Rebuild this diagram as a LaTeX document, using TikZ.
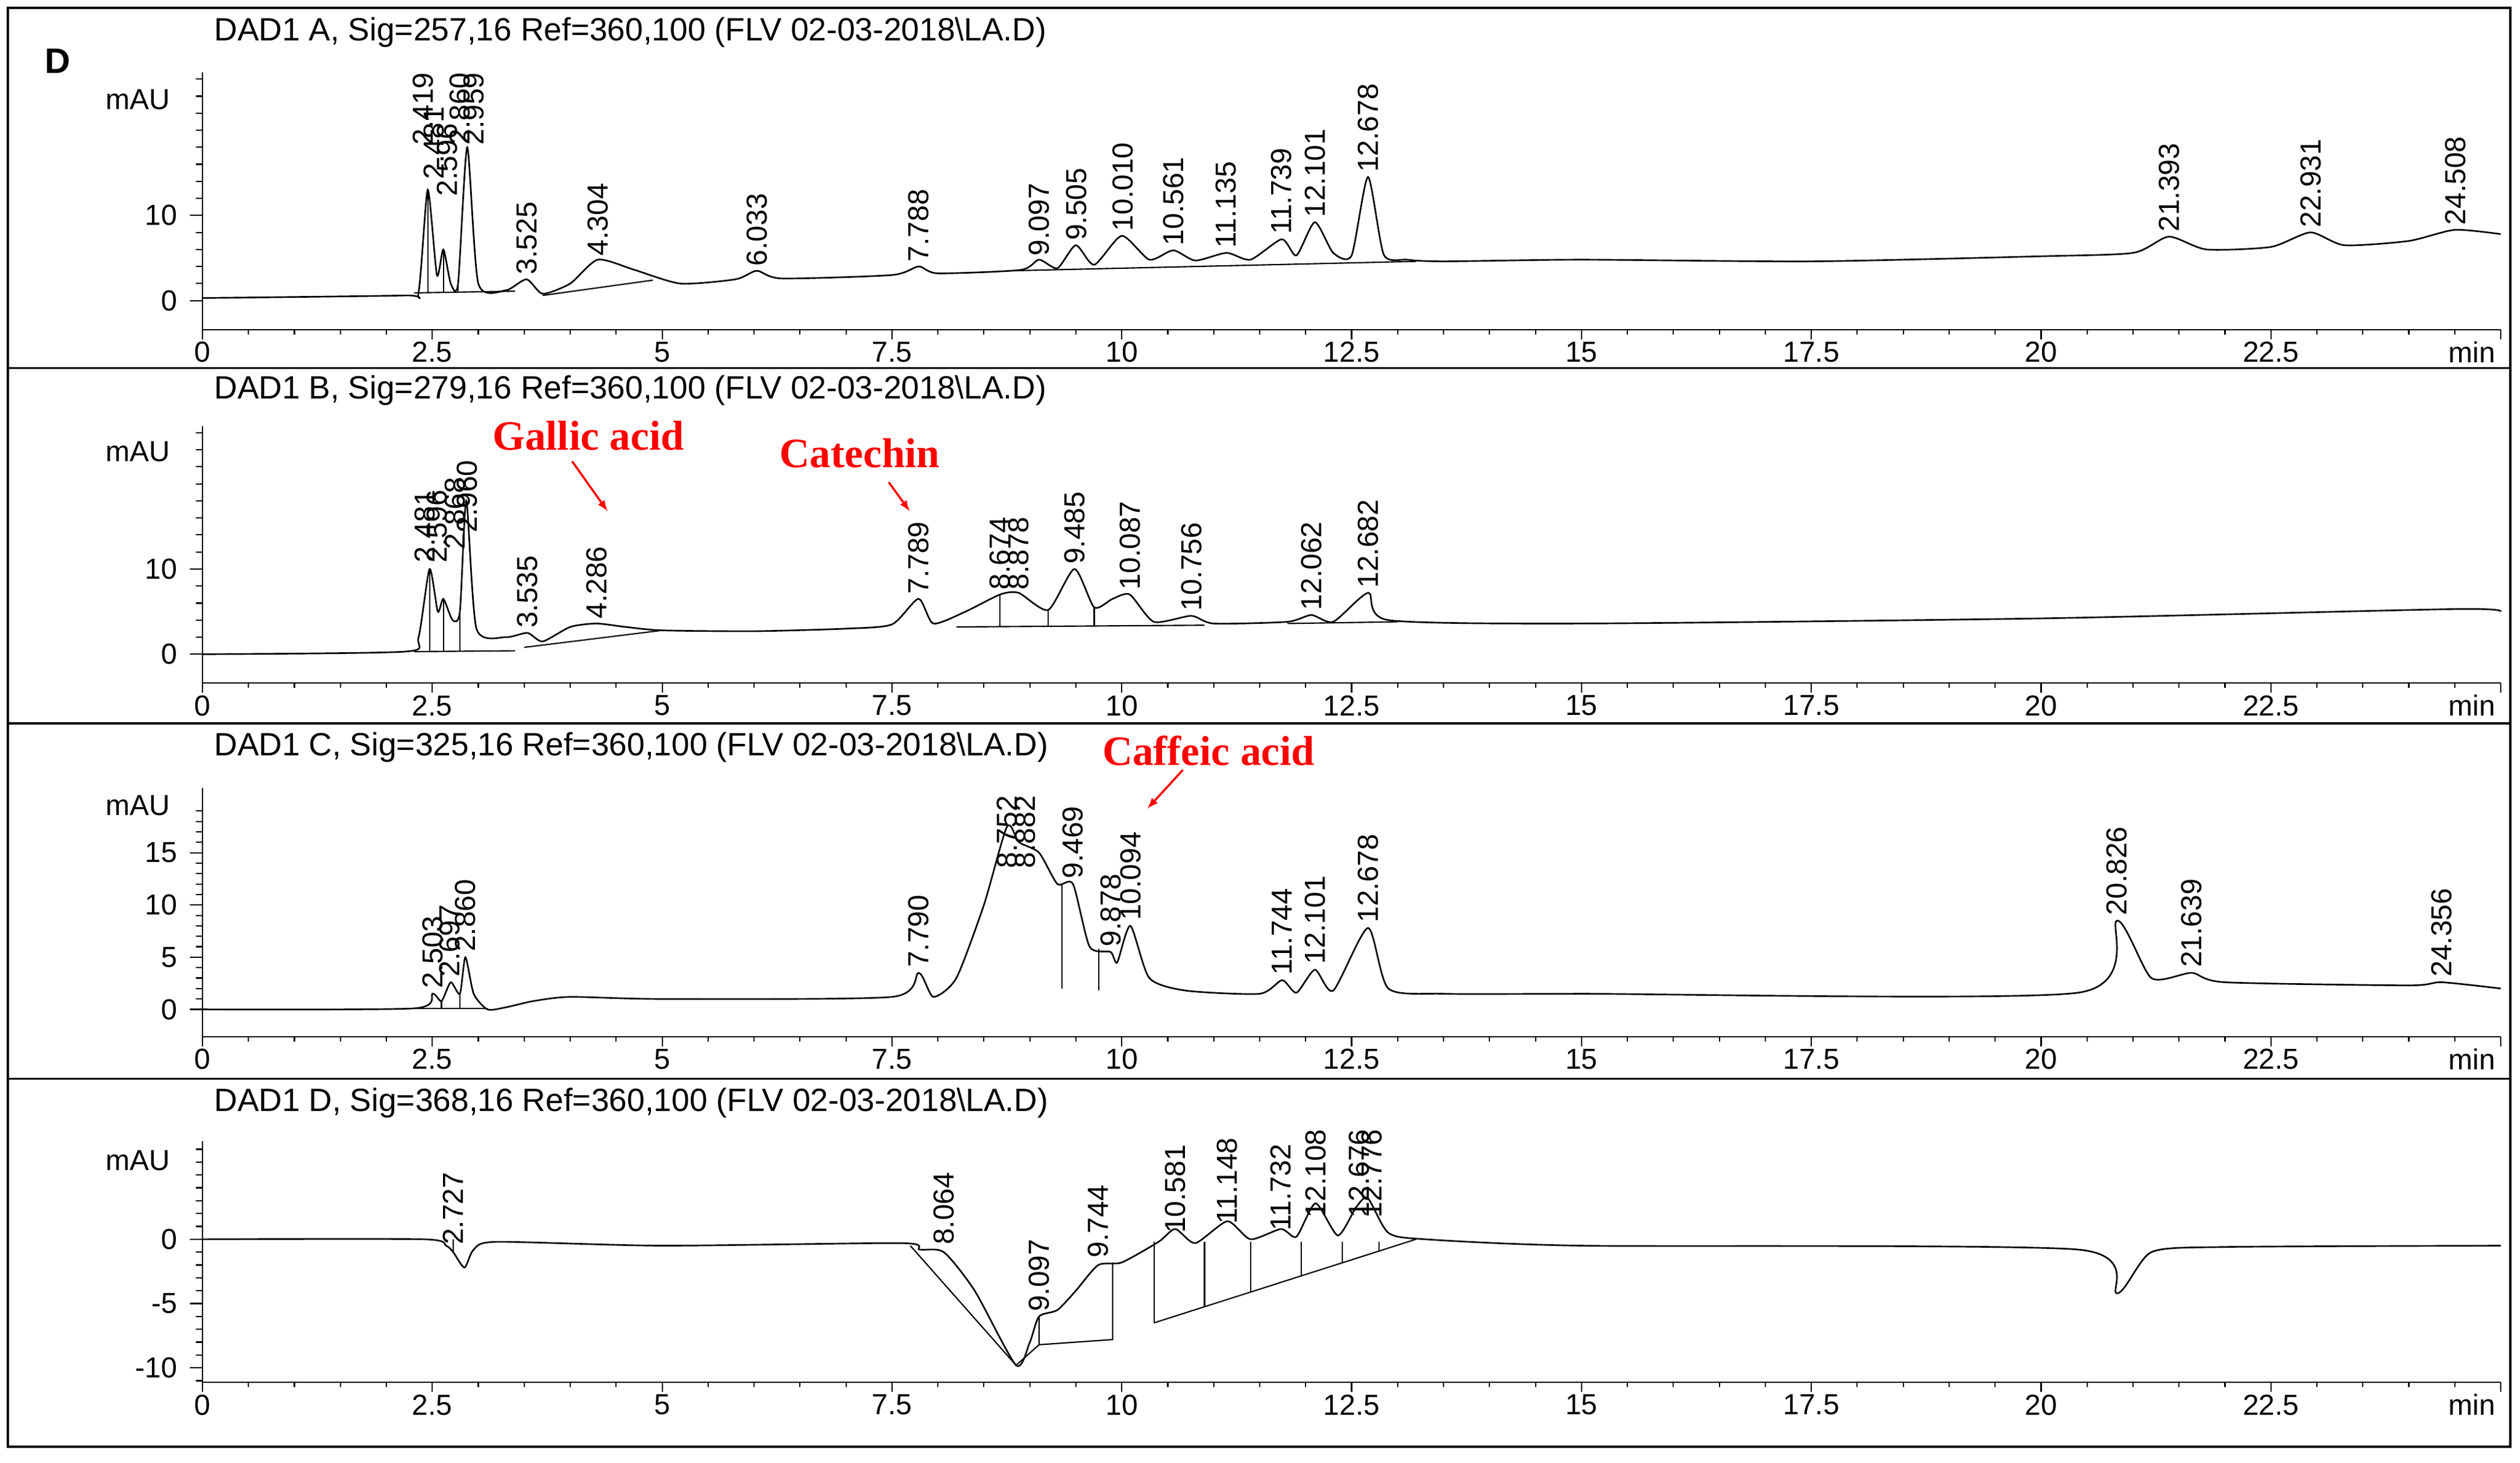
\documentclass[tikz,border=0pt]{standalone}
\usepackage{fontspec}
\setmainfont{Liberation Sans}
\newfontfamily\serifb{Liberation Serif}
\begin{document}
\begin{tikzpicture}[x=1pt,y=-1pt,line width=0.8pt,
  ttl/.style={font=\fontsize{20}{20}\selectfont,anchor=west,inner sep=0pt},
  plab/.style={font=\fontsize{18}{18}\selectfont,rotate=90,anchor=west,inner sep=1pt},
  tlab/.style={font=\fontsize{18}{18}\selectfont},
  trace/.style={line width=1pt,smooth,tension=0.4},
  red lab/.style={font=\serifb\bfseries\fontsize{26}{26}\selectfont,text=red},
  redarr/.style={red,line width=1.3pt,-latex}]
\useasboundingbox (0,0) rectangle (1568,910);
\draw[line width=1.4] (5,5) rectangle (1562,900);
\foreach \yy in {229,450,671} \draw[line width=1.2] (5,\yy)--(1562,\yy);
\node[font=\bfseries\fontsize{22}{22}\selectfont] (D) at (36,38) {D};
\newcommand\xaxis[1]{%
  \draw (126,#1)--(1556,#1);
  \foreach \i in {0,...,50} \draw (126+28.6*\i,#1)--(126+28.6*\i,#1+3);
  \foreach \i in {0,...,10} \draw (126+143*\i,#1)--(126+143*\i,#1+6);
  \foreach \i/\l in {0/0,1/2.5,2/5,3/7.5,4/10,5/12.5,6/15,7/17.5,8/20,9/22.5}
    \node[tlab] at (126+143*\i,#1+14) {\l};
  \node[tlab] at (1538,#1+14) {min};}
% ---------- Panel A
\node[ttl] (tA) at (133,20) {DAD1 A, Sig=257,16 Ref=360,100 (FLV 02-03-2018\textbackslash LA.D)};
\node[tlab] (muA) at (86,62) {mAU};
\draw (126,45)--(126,205);
\foreach \v in {0,2,...,26} \draw (126,187-5.3*\v)--(122,187-5.3*\v);
\foreach \v in {0,10} {\draw (126,187-5.3*\v)--(118,187-5.3*\v); \node[tlab,anchor=east] at (114,187-5.3*\v) {\v};}
\xaxis{205}
\begin{scope}[shift={(126,187)},x=57.2pt,y=5.3pt]
\draw[trace] plot coordinates {(0,0.3)(2.2,0.6)(2.35,1)(2.45,13)(2.55,3)(2.62,6)(2.7,2)(2.78,2)(2.88,18)(3.0,2)(3.3,1.2)(3.525,2.5)(3.7,0.8)(4.0,2)(4.3,4.8)(4.7,3.6)(5.2,2)(5.8,2.5)(6.03,3.5)(6.3,2.6)(7.5,3)(7.79,4)(8.0,3.2)(8.9,3.6)(9.1,4.8)(9.3,3.8)(9.5,6.5)(9.7,4.2)(10.0,7.6)(10.3,4.8)(10.56,5.9)(10.8,4.7)(11.14,5.6)(11.4,4.8)(11.74,7.2)(11.9,5.3)(12.1,9.2)(12.3,5.6)(12.5,5.3)(12.678,14.5)(12.85,5.4)(13.1,4.8)(13.5,4.6)(15,4.8)(17.5,4.6)(20,5.2)(21,5.6)(21.39,7.5)(21.8,6)(22.5,6.3)(22.93,8)(23.3,6.5)(24,7)(24.5,8.3)(25,7.8)};
\draw (2.3,0.9)--(3.4,1.1) (3.7,0.6)--(4.9,2.4) (8.8,3.5)--(13.2,4.6);
\draw (2.45,1)--(2.45,13) (2.62,1)--(2.62,6) (2.78,1)--(2.78,2);
\foreach \t/\h/\l in {2.40/18/2.419,2.52/14/2.481,2.66/12/2.596,2.80/18/2.860,2.95/18/2.959,3.525/2.8/3.525,4.304/5/4.304,6.033/3.8/6.033,7.788/4.3/7.788,9.097/5/9.097,9.505/6.8/9.505,10.010/7.9/10.010,10.561/6.2/10.561,11.135/5.9/11.135,11.739/7.5/11.739,12.101/9.5/12.101,12.678/14.8/12.678,21.393/7.8/21.393,22.931/8.3/22.931,24.508/8.6/24.508}
  \node[plab] at (\t,\h) {\l};
\end{scope}
% ---------- Panel B
\node[ttl] (tB) at (133,243) {DAD1 B, Sig=279,16 Ref=360,100 (FLV 02-03-2018\textbackslash LA.D)};
\node[tlab] (muB) at (86,281) {mAU};
\draw (126,265)--(126,425);
\foreach \v in {0,2,...,26} \draw (126,407-5.3*\v)--(122,407-5.3*\v);
\foreach \v in {0,10} {\draw (126,407-5.3*\v)--(118,407-5.3*\v); \node[tlab,anchor=east] at (114,407-5.3*\v) {\v};}
\xaxis{425}
\begin{scope}[shift={(126,407)},x=57.2pt,y=5.3pt]
\draw[trace] plot coordinates {(0,0)(2.2,0.3)(2.35,2)(2.47,10)(2.56,5)(2.62,6.5)(2.72,4)(2.8,5)(2.87,18)(2.98,3)(3.3,2)(3.535,2.5)(3.7,1.5)(4.0,3.2)(4.286,3.6)(4.6,3.2)(5,2.8)(6,2.7)(7,3)(7.5,3.5)(7.789,6.5)(7.95,3.6)(8.3,5)(8.674,7)(8.878,7.2)(9.2,5.2)(9.485,10)(9.7,5.5)(9.9,6.5)(10.087,7)(10.35,3.8)(10.756,4.5)(11,3.6)(11.8,3.8)(12.062,4.6)(12.3,3.8)(12.682,7.2)(12.9,4)(15,3.6)(20,4.2)(24.5,5.3)(25,5)};
\draw (2.3,0.3)--(3.4,0.4) (3.5,0.8)--(5,2.8) (8.2,3.2)--(10.9,3.4) (11.8,3.6)--(13,3.8);
\draw (2.47,0.3)--(2.47,10) (2.62,0.3)--(2.62,6.5) (2.8,0.3)--(2.8,5) (8.674,3.3)--(8.674,7) (9.2,3.3)--(9.2,5.2) (9.7,3.3)--(9.7,5.5);
\foreach \t/\h/\l in {2.42/10.5/2.481,2.55/10.5/2.596,2.75/12/2.868,2.88/14/2.960,3.535/2.8/3.535,4.286/3.9/4.286,7.789/6.8/7.789,8.674/7.3/8.674,8.878/7.3/8.878,9.485/10.3/9.485,10.087/7.3/10.087,10.756/4.8/10.756,12.062/4.9/12.062,12.682/7.5/12.682}
  \node[plab] at (\t,\h) {\l};
\end{scope}
\node[red lab] (ga) at (366,271) {Gallic acid};
\coordinate (gaT) at (378,318);
\draw[redarr] (356,287)--(gaT);
\node[red lab] (ca) at (535,282) {Catechin};
\coordinate (caT) at (566,318);
\draw[redarr] (553,300)--(caT);
% ---------- Panel C
\node[ttl] (tC) at (133,465) {DAD1 C, Sig=325,16 Ref=360,100 (FLV 02-03-2018\textbackslash LA.D)};
\node[tlab] (muC) at (86,501) {mAU};
\draw (126,490)--(126,645);
\foreach \v in {0,1,...,19} \draw (126,628-6.5*\v)--(122,628-6.5*\v);
\foreach \v in {0,5,10,15} {\draw (126,628-6.5*\v)--(118,628-6.5*\v); \node[tlab,anchor=east] at (114,628-6.5*\v) {\v};}
\xaxis{645}
\begin{scope}[shift={(126,628)},x=57.2pt,y=6.5pt]
\draw[trace] plot coordinates {(0,0)(2.3,0.1)(2.503,1.5)(2.6,0.8)(2.7,2.6)(2.8,1.5)(2.86,5)(2.95,1.5)(3.1,0)(3.3,0.2)(3.6,0.8)(4,1.2)(5,1)(7.5,1.2)(7.79,3.5)(7.95,1.2)(8.2,3)(8.5,10)(8.752,17.5)(8.882,16)(9.1,15)(9.3,12)(9.469,12)(9.65,6)(9.878,5.5)(9.95,4.5)(10.094,8)(10.3,3)(10.7,1.8)(11.5,1.5)(11.744,2.8)(11.9,1.6)(12.101,3.8)(12.3,1.8)(12.678,7.8)(12.9,2)(13.5,1.5)(15,1.5)(20.4,1.6)(20.826,8.5)(21.2,3)(21.639,3.5)(22,2.6)(24,2.3)(24.356,2.6)(25,2)};
\draw (9.35,2)--(9.35,12) (9.75,1.8)--(9.75,5.8) (2.3,0.1)--(3.1,0.1) (2.6,0.1)--(2.6,0.8) (2.8,0.1)--(2.8,1.5);
\foreach \t/\h/\l in {2.503/1.8/2.503,2.69/2.9/2.697,2.86/5.3/2.860,7.790/3.8/7.790,8.752/13.3/8.752,8.95/13.3/8.882,9.469/12.3/9.469,9.878/5.8/9.878,10.094/8.3/10.094,11.744/3.1/11.744,12.101/4.1/12.101,12.678/8.1/12.678,20.826/8.8/20.826,21.639/3.8/21.639,24.356/2.9/24.356}
  \node[plab] at (\t,\h) {\l};
\end{scope}
\node[red lab] (cf) at (752,467) {Caffeic acid};
\coordinate (cfT) at (714,503);
\draw[redarr] (736,479)--(cfT);
% ---------- Panel D
\node[ttl] (tD) at (133,686) {DAD1 D, Sig=368,16 Ref=360,100 (FLV 02-03-2018\textbackslash LA.D)};
\node[tlab] (muD) at (86,722) {mAU};
\draw (126,710)--(126,860);
\foreach \v in {-11,-10,...,7} \draw (126,771-8*\v)--(122,771-8*\v);
\foreach \v in {0,-5,-10} {\draw (126,771-8*\v)--(118,771-8*\v); \node[tlab,anchor=east] at (114,771-8*\v) {\v};}
\xaxis{860}
\begin{scope}[shift={(126,771)},x=57.2pt,y=8pt]
\draw[trace] plot coordinates {(0,0)(2.4,0)(2.65,-0.5)(2.727,-1)(2.85,-2.2)(2.95,-0.8)(3.2,-0.2)(5,-0.5)(7.6,-0.3)(7.8,-0.8)(8.064,-1)(8.4,-4)(8.85,-9.8)(9.0,-8)(9.1,-6)(9.3,-5.5)(9.5,-4)(9.744,-2)(10,-1.8)(10.4,-0.2)(10.581,0.8)(10.8,-0.3)(11.148,1.4)(11.4,0)(11.732,0.8)(11.9,0.2)(12.108,2.8)(12.35,0.3)(12.55,2.5)(12.676,3.2)(12.9,0.5)(13.3,0)(15,-0.5)(20.4,-0.8)(20.826,-4.2)(21.2,-1)(22,-0.6)(25,-0.5)};
\draw (7.7,-0.5)--(8.85,-9.8)--(9.1,-8.2)--(9.9,-7.8)--(9.9,-1.8) (9.1,-8.2)--(9.1,-6) (2.727,0)--(2.727,-1);
\draw (10.35,-6.5)--(13.2,0);
\foreach \t in {10.35,10.9,11.4,11.95,12.4,12.8} \draw (\t,-0.2)--(\t,{-6.5*(13.2-\t)/2.85});
\foreach \t/\h/\l in {2.727/-0.6/2.727,8.064/-0.6/8.064,9.097/-5.8/9.097,9.744/-1.6/9.744,10.581/0.3/10.581,11.148/1/11.148,11.732/0.5/11.732,12.108/1.5/12.108,12.58/1.5/12.676,12.72/1.5/12.776}
  \node[plab] at (\t,\h) {\l};
\end{scope}
\end{tikzpicture}
\end{document}
